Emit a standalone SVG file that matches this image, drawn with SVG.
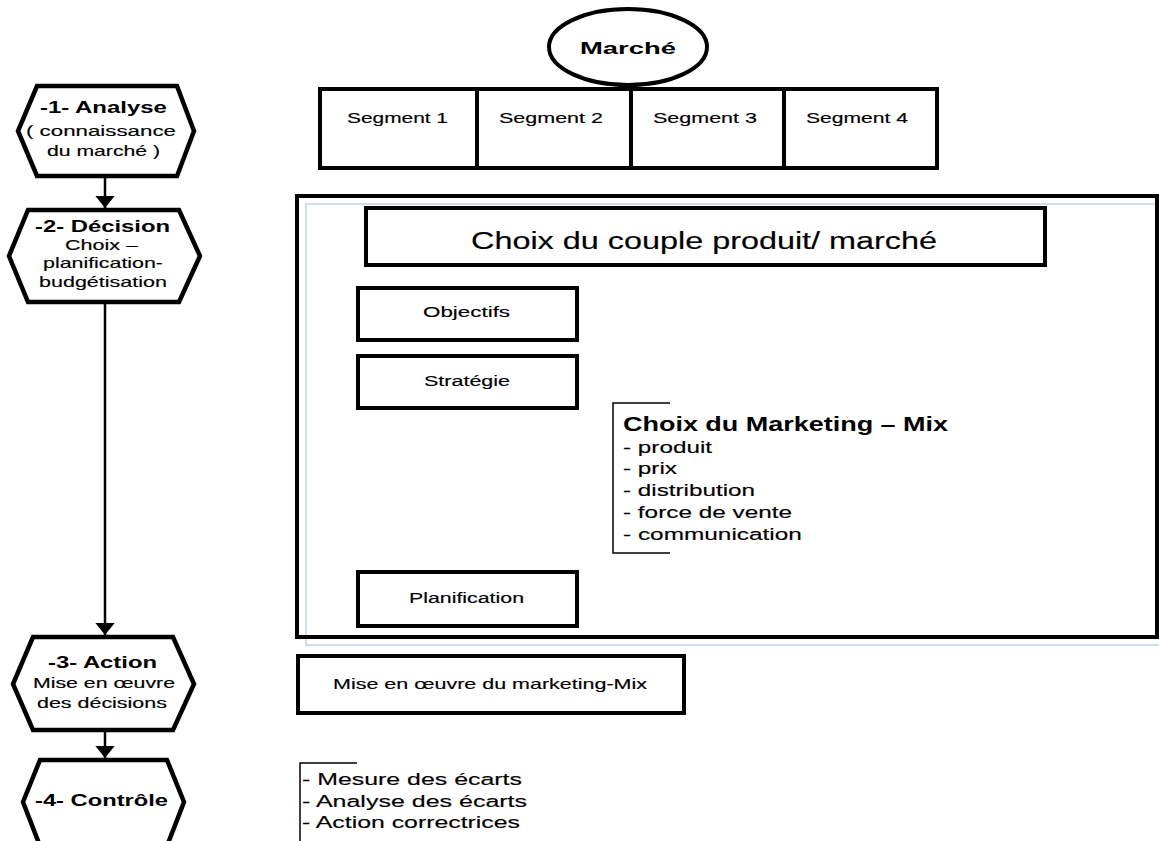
<svg xmlns="http://www.w3.org/2000/svg" width="1159" height="841" viewBox="0 0 1159 841">
  <defs>
    <marker id="arrow" markerWidth="5" markerHeight="8" refX="5" refY="4" orient="auto" markerUnits="strokeWidth">
      <path d="M0,0 L5,4 L0,8 Z" fill="#000"/>
    </marker>
    <style>
      text { font-family: "Liberation Sans", Arial, sans-serif; fill: #000; }
      .hex { fill: #fff; stroke: #000; stroke-width: 4.5; stroke-linejoin: miter; }
      .box { fill: #fff; stroke: #000; stroke-width: 4; }
      .hb { font-size: 17px; font-weight: bold; }
      .hs { font-size: 15px; stroke: #000; stroke-width: 0.15; }
      .lbl { font-size: 14px; stroke: #000; stroke-width: 0.15; }
      .list { font-size: 17px; stroke: #000; stroke-width: 0.15; }
      .bracket { fill: none; stroke: #000; stroke-width: 1.5; }
      .link { stroke: #000; stroke-width: 2.5; fill: none; marker-end: url(#arrow); }
    </style>
  </defs>
  <rect width="1159" height="841" fill="#fff"/>

  <!-- process steps on the left; text is drawn in a wide (1.42x) face -->
  <g id="step-analyse">
    <polygon class="hex" points="37,86 177,86 194,131 177,176 37,176 18,131"/>
    <text class="hb" transform="matrix(1.42 0 0 1 40 0)" x="0" y="113" textLength="89.4" lengthAdjust="spacingAndGlyphs">-1- Analyse</text>
    <text class="hs" transform="matrix(1.42 0 0 1 26 0)" x="0" y="136" textLength="105.6" lengthAdjust="spacingAndGlyphs">( connaissance</text>
    <text class="hs" transform="matrix(1.42 0 0 1 47 0)" x="0" y="156" textLength="79.6" lengthAdjust="spacingAndGlyphs">du marché )</text>
  </g>
  <g id="step-decision">
    <polygon class="hex" points="28,210 179,210 200,256 179,302 28,302 9,256"/>
    <text class="hb" transform="matrix(1.42 0 0 1 35 0)" x="0" y="232" textLength="95.1" lengthAdjust="spacingAndGlyphs">-2- Décision</text>
    <text class="hs" transform="matrix(1.42 0 0 1 65 0)" x="0" y="250" textLength="51.4" lengthAdjust="spacingAndGlyphs">Choix –</text>
    <text class="hs" transform="matrix(1.42 0 0 1 43 0)" x="0" y="268" textLength="84.5" lengthAdjust="spacingAndGlyphs">planification-</text>
    <text class="hs" transform="matrix(1.42 0 0 1 39 0)" x="0" y="287" textLength="90.1" lengthAdjust="spacingAndGlyphs">budgétisation</text>
  </g>
  <g id="step-action">
    <polygon class="hex" points="33,637 173,637 194,684 173,730 33,730 13,684"/>
    <text class="hb" transform="matrix(1.42 0 0 1 48 0)" x="0" y="668" textLength="76.8" lengthAdjust="spacingAndGlyphs">-3- Action</text>
    <text class="hs" transform="matrix(1.42 0 0 1 33 0)" x="0" y="688" textLength="100" lengthAdjust="spacingAndGlyphs">Mise en œuvre</text>
    <text class="hs" transform="matrix(1.42 0 0 1 37 0)" x="0" y="708" textLength="91.5" lengthAdjust="spacingAndGlyphs">des décisions</text>
  </g>
  <g id="step-controle">
    <polygon class="hex" points="40,760 167,760 184,802 167,846 40,846 23,802"/>
    <text class="hb" transform="matrix(1.42 0 0 1 35 0)" x="0" y="806" textLength="93.7" lengthAdjust="spacingAndGlyphs">-4- Contrôle</text>
  </g>

  <!-- market and its segments -->
  <g id="marche">
    <ellipse cx="628" cy="47" rx="79" ry="38" fill="#fff" stroke="#000" stroke-width="4"/>
    <text transform="matrix(1.42 0 0 1 580 0)" x="0" y="54" font-size="17" font-weight="bold" textLength="67.6" lengthAdjust="spacingAndGlyphs">Marché</text>
  </g>
  <g id="segments">
    <rect class="box" x="320" y="89" width="617" height="79"/>
    <line x1="477" y1="89" x2="477" y2="168" stroke="#000" stroke-width="4"/>
    <line x1="631" y1="89" x2="631" y2="168" stroke="#000" stroke-width="4"/>
    <line x1="784" y1="89" x2="784" y2="168" stroke="#000" stroke-width="4"/>
    <text class="lbl" transform="matrix(1.42 0 0 1 347 0)" x="0" y="123" textLength="71.1" lengthAdjust="spacingAndGlyphs">Segment 1</text>
    <text class="lbl" transform="matrix(1.42 0 0 1 499 0)" x="0" y="123" textLength="73.2" lengthAdjust="spacingAndGlyphs">Segment 2</text>
    <text class="lbl" transform="matrix(1.42 0 0 1 653 0)" x="0" y="123" textLength="73.2" lengthAdjust="spacingAndGlyphs">Segment 3</text>
    <text class="lbl" transform="matrix(1.42 0 0 1 806 0)" x="0" y="123" textLength="71.8" lengthAdjust="spacingAndGlyphs">Segment 4</text>
  </g>

  <!-- decision panel -->
  <g id="decision-panel">
    <rect x="306" y="204" width="860" height="441" fill="none" stroke="#cfdeea" stroke-width="2"/>
    <rect x="297" y="196" width="860" height="441" fill="none" stroke="#000" stroke-width="4"/>
  </g>
  <g id="couple-produit-marche">
    <rect class="box" x="366" y="208" width="679" height="57"/>
    <text transform="matrix(1.42 0 0 1 471 0)" x="0" y="249" font-size="23" stroke="#000" stroke-width="0.15" textLength="328.2" lengthAdjust="spacingAndGlyphs">Choix du couple produit/ marché</text>
  </g>
  <g id="objectifs">
    <rect class="box" x="358" y="288" width="219" height="52"/>
    <text class="lbl" transform="matrix(1.42 0 0 1 423 0)" x="0" y="317" textLength="61.3" lengthAdjust="spacingAndGlyphs">Objectifs</text>
  </g>
  <g id="strategie">
    <rect class="box" x="358" y="356" width="219" height="52"/>
    <text class="lbl" transform="matrix(1.42 0 0 1 424 0)" x="0" y="386" textLength="60.6" lengthAdjust="spacingAndGlyphs">Stratégie</text>
  </g>
  <g id="marketing-mix">
    <path class="bracket" d="M670,403 H613 V553 H670"/>
    <text transform="matrix(1.42 0 0 1 623 0)" x="0" y="431" font-size="20" font-weight="bold" textLength="228.9" lengthAdjust="spacingAndGlyphs">Choix du Marketing – Mix</text>
    <text class="list" transform="matrix(1.42 0 0 1 623 0)" x="0" y="453" textLength="62.7" lengthAdjust="spacingAndGlyphs">- produit</text>
    <text class="list" transform="matrix(1.42 0 0 1 623 0)" x="0" y="474" textLength="38" lengthAdjust="spacingAndGlyphs">- prix</text>
    <text class="list" transform="matrix(1.42 0 0 1 623 0)" x="0" y="496" textLength="93" lengthAdjust="spacingAndGlyphs">- distribution</text>
    <text class="list" transform="matrix(1.42 0 0 1 623 0)" x="0" y="518" textLength="119" lengthAdjust="spacingAndGlyphs">- force de vente</text>
    <text class="list" transform="matrix(1.42 0 0 1 623 0)" x="0" y="540" textLength="126" lengthAdjust="spacingAndGlyphs">- communication</text>
  </g>
  <g id="planification">
    <rect class="box" x="358" y="572" width="219" height="54"/>
    <text class="lbl" transform="matrix(1.42 0 0 1 409 0)" x="0" y="603" textLength="81" lengthAdjust="spacingAndGlyphs">Planification</text>
  </g>

  <g id="mise-en-oeuvre">
    <rect class="box" x="298" y="656" width="386" height="57"/>
    <text class="hs" transform="matrix(1.42 0 0 1 333 0)" x="0" y="689" textLength="221.1" lengthAdjust="spacingAndGlyphs">Mise en œuvre du marketing-Mix</text>
  </g>

  <g id="controle-liste">
    <path class="bracket" d="M357,763 H300 V841"/>
    <text class="list" transform="matrix(1.42 0 0 1 302 0)" x="0" y="785" textLength="154.9" lengthAdjust="spacingAndGlyphs">- Mesure des écarts</text>
    <text class="list" transform="matrix(1.42 0 0 1 302 0)" x="0" y="807" textLength="158.5" lengthAdjust="spacingAndGlyphs">- Analyse des écarts</text>
    <text class="list" transform="matrix(1.42 0 0 1 302 0)" x="0" y="828" textLength="153.5" lengthAdjust="spacingAndGlyphs">- Action correctrices</text>
  </g>

  <!-- flow between the steps -->
  <g id="connectors">
    <line class="link" x1="105" y1="178" x2="105" y2="208"/>
    <line class="link" x1="105" y1="304" x2="105" y2="635"/>
    <line class="link" x1="105" y1="732" x2="105" y2="758"/>
  </g>
</svg>
